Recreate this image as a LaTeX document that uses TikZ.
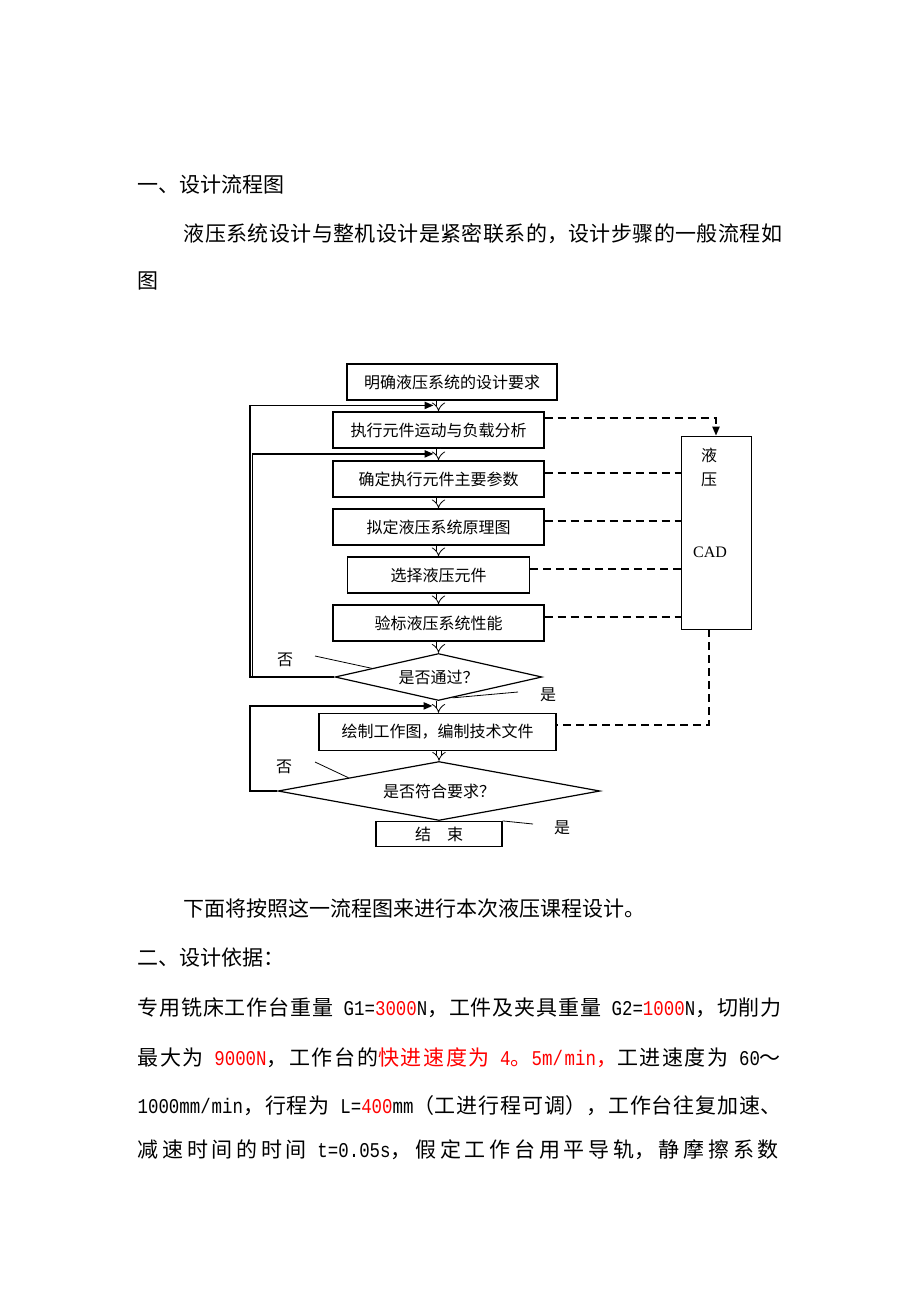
\documentclass[tikz,border=0pt]{standalone}
\usepackage{fontspec}
\setmainfont{Noto Sans CJK SC}
\newfontfamily\latinmono{Liberation Mono}[FakeStretch=0.83]
\newfontfamily\latinserif{Liberation Serif}
\usetikzlibrary{positioning,shapes.geometric,arrows.meta,calc}
\XeTeXlinebreaklocale "zh"
\XeTeXlinebreakskip=0pt plus 1fil minus 0.4pt

\tikzstyle{box} = [rectangle, minimum width=105.5pt, minimum height=18pt, text centered, draw=black, font=\fontsize{8pt}{9pt}\selectfont]
\tikzstyle{decision} = [diamond, draw=black, inner sep=0pt, font=\fontsize{8pt}{9pt}\selectfont]
\tikzstyle{cadbox} = [rectangle, draw=black, thin, minimum width=35pt, minimum height=96.5pt]
\tikzstyle{tag} = [inner sep=0pt, font=\fontsize{8pt}{9pt}\selectfont]
\tikzstyle{dbl} = [double, double distance=2pt, thin, -{Implies}]
\tikzstyle{backline} = [line width=0.9pt, ->]
\tikzstyle{dashline} = [line width=0.85pt, dash pattern=on 4pt off 2.5pt]
\tikzstyle{leader} = [thin]
\tikzstyle{bodyline} = [anchor=west, inner sep=0pt, font=\fontsize{10.5pt}{12pt}\selectfont]

\begin{document}
\begin{tikzpicture}[x=0.5pt,y=-0.5pt,node distance=24pt,semithick,>={Triangle[length=4.5pt,width=3.6pt]}]
\fill[white] (0,0) rectangle (920,1302);
\useasboundingbox (0,0) rectangle (920,1302);

\node[bodyline] (title1) at (137,185) {一、设计流程图};
\node[bodyline, text width=299.5pt, align=justify] (intro) at (183,234) {\noindent\parfillskip=0pt 液压系统设计与整机设计是紧密联系的，设计步骤的一般流程如};
\node[bodyline] (intro2) at (137,281) {图};

\node[box, minimum width=105pt] (req) at (452,382) {明确液压系统的设计要求};
\node[box] (motion) [below of=req, xshift=-6.75pt] {执行元件运动与负载分析};
\node[box] (param) [below of=motion, yshift=-0.5pt] {确定执行元件主要参数};
\node[box] (scheme) [below of=param] {拟定液压系统原理图};
\node[box, minimum width=91pt] (select) [below of=scheme] {选择液压元件};
\node[box] (check) [below of=select] {验标液压系统性能};
\node[decision, aspect=4.4, minimum width=103.5pt, minimum height=23.5pt] (pass) [below of=check, yshift=-3pt] {是否通过？};
\node[box, minimum width=118.5pt, minimum height=18.5pt] (drawing) [below of=pass, yshift=-3.5pt, xshift=-0.5pt] {绘制工作图，编制技术文件};
\node[decision, aspect=5.4, minimum width=161pt, minimum height=29.5pt] (meet) [below of=drawing, yshift=-5.5pt, xshift=0.75pt] {是否符合要求？};
\node[box, inner sep=1pt, minimum width=63pt, minimum height=12.5pt] (finish) [below of=meet, yshift=2.5pt] {结\quad 束};

\node[cadbox] (cad) at (716,532.5) {};
\node[tag] (cadA) at (709,455) {液};
\node[tag] (cadB) at (709,480) {压};
\node[tag, font=\latinserif\fontsize{8pt}{9pt}\selectfont] (cadC) at (710,552) {CAD};

\node[tag] (no1) at (285,660) {否};
\node[tag] (yes1) at (548,695) {是};
\node[tag] (no2) at (284,767) {否};
\node[tag] (yes2) at (562,828) {是};

\draw[dbl] (req.south -| motion.north) -- (motion.north);
\draw[dbl] (motion.south) -- (param.north);
\draw[dbl] (param.south) -- (scheme.north);
\draw[dbl] (scheme.south) -- (select.north);
\draw[dbl] (select.south) -- (check.north);
\draw[dbl] (check.south) -- (check.south |- pass.north);
\draw[dbl] (pass.south) -- (pass.south |- drawing.north);
\draw[dbl] (meet.north |- drawing.south) -- (meet.north);

\coordinate (rail) at (250,0);
\coordinate (rail2) at (252.5,0);
\coordinate (inA) at ($(motion.north)+(-2.5pt,3pt)$);
\coordinate (inB) at ($(param.north)+(-2.5pt,3.25pt)$);
\coordinate (inC) at ($(drawing.north)+(-2.5pt,3.5pt)$);
\draw[backline] (pass.west) -- (pass.west -| rail) |- (inA);
\draw[backline] (pass.west -| rail2) |- (inB);
\draw[backline] (meet.west) -- (meet.west -| rail) |- (inC);

\coordinate (ldA) at (315,656);
\coordinate (ldB) at (518,692);
\coordinate (ldC) at (315,762);
\coordinate (ldD) at (533,824);
\draw[leader] (ldA) -- ($(pass.west)!0.36!(pass.north)$);
\draw[leader] (ldB) -- ($(pass.east)!0.865!(pass.south)$);
\draw[leader] (ldC) -- ($(meet.west)!0.44!(meet.north)$);
\draw[leader] (ldD) -- (finish.north east);

\draw[dashline, ->] ([yshift=6pt]motion.east) -| (cad.north);
\draw[dashline] ($(param.east)+(0,3pt)$) -- ($(param.east -| cad.west)+(0,3pt)$);
\draw[dashline] ($(scheme.east)+(0,3pt)$) -- ($(scheme.east -| cad.west)+(0,3pt)$);
\draw[dashline] ($(select.east)+(0,3pt)$) -- ($(select.east -| cad.west)+(0,3pt)$);
\draw[dashline] ($(check.east)+(0,3pt)$) -- ($(check.east -| cad.west)+(0,3pt)$);
\draw[dashline] ([xshift=-3.5pt]cad.south) |- ([yshift=3.5pt]drawing.east);

\node[bodyline] (next) at (183,908) {下面将按照这一流程图来进行本次液压课程设计。};
\node[bodyline] (title2) at (137,958) {二、设计依据：};
\node[bodyline, text width=322.5pt, align=justify] (basis1) at (137,1008) {\noindent\parfillskip=0pt 专用铣床工作台重量{\latinmono\ G1=\textcolor{red}{3000}N}，工件及夹具重量{\latinmono\ G2=\textcolor{red}{1000}N}，切削力};
\node[bodyline, text width=322.5pt, align=justify] (basis2) at (137,1058) {\noindent\parfillskip=0pt 最大为{\latinmono\ \textcolor{red}{9000N}}，工作台的\textcolor{red}{快进速度为{\latinmono\ 4}。{\latinmono 5m/min}，}工进速度为{\latinmono\ 60}～};
\node[bodyline, text width=322.5pt, align=justify] (basis3) at (137,1106) {\noindent\parfillskip=0pt {\latinmono 1000mm/min}，行程为{\latinmono\ L=\textcolor{red}{400}mm}（工进行程可调），工作台往复加速、};
\node[bodyline, text width=322.5pt, align=justify] (basis4) at (137,1150) {\noindent\parfillskip=0pt 减速时间的时间{\latinmono\ t=0.05s}，假定工作台用平导轨，静摩擦系数};

\end{tikzpicture}
\end{document}
